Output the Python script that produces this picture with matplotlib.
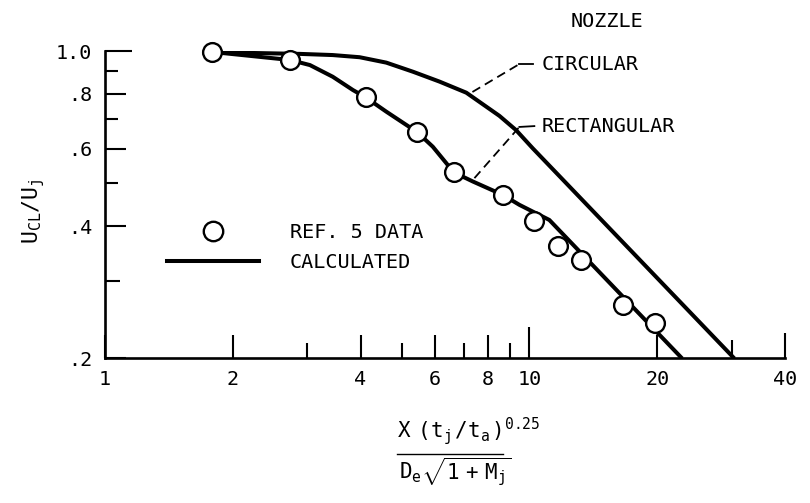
import matplotlib
matplotlib.use("Agg")
import matplotlib.pyplot as plt
from matplotlib.lines import Line2D
from matplotlib.ticker import FixedLocator, FixedFormatter, NullFormatter

plt.rcParams["font.family"] = ["DejaVu Sans Mono", "DejaVu Sans"]
plt.rcParams["mathtext.fontset"] = "custom"
plt.rcParams["mathtext.rm"] = "DejaVu Sans Mono"
plt.rcParams["mathtext.it"] = "DejaVu Sans Mono"
plt.rcParams["mathtext.bf"] = "DejaVu Sans Mono:bold"

# REF. 5 measured centreline velocity (rectangular nozzle)
data_x = [1.79, 2.73, 4.11, 5.43, 6.63, 8.65, 10.27, 11.66, 13.23, 16.64, 19.71]
data_y = [0.995, 0.953, 0.785, 0.654, 0.530, 0.470, 0.411, 0.360, 0.335, 0.265, 0.2405]

# Calculated decay, circular nozzle
circ_x = [1.79, 2.19, 2.88, 3.44, 3.98, 4.60, 5.32, 6.14, 7.10, 8.50, 9.30,
          10.18, 30.4]
circ_y = [0.995, 0.990, 0.985, 0.979, 0.968, 0.941, 0.897, 0.852, 0.804, 0.712, 0.661,
          0.601, 0.20]

# Calculated decay, rectangular nozzle
rect_x = [1.79, 2.73, 3.04, 3.44, 3.84, 4.11, 4.60, 5.13, 5.44, 5.92, 6.37, 6.63,
          7.36, 8.65, 9.47, 11.14, 22.9]
rect_y = [0.995, 0.954, 0.929, 0.874, 0.815, 0.785, 0.728, 0.679, 0.654, 0.606, 0.556,
          0.530, 0.505, 0.471, 0.447, 0.413, 0.20]

x_major = [1, 2, 4, 6, 8, 10, 20, 40]
x_major_labels = ["1", "2", "4", "6", "8", "10", "20", "40"]
x_minor = [3, 5, 7, 9, 30]
y_major = [0.2, 0.4, 0.6, 0.8, 1.0]
y_major_labels = [".2", ".4", ".6", ".8", "1.0"]
y_minor = [0.3, 0.5, 0.7, 0.9]

FS = 14.5
LW = 2.9

fig = plt.figure(figsize=(8.10, 5.03), dpi=100)
ax = fig.add_axes([0.1296, 0.2873, 0.8395, 0.6113])
ax.set_xscale("log")
ax.set_yscale("log")
ax.set_xlim(1, 40)
ax.set_ylim(0.2, 1.0)

for cx, cy in ((circ_x, circ_y), (rect_x, rect_y)):
    ax.plot(cx, cy, color="black", lw=LW, solid_capstyle="butt",
            solid_joinstyle="round", zorder=2)
ax.plot(data_x, data_y, linestyle="none", marker="o", ms=13.5, mfc="white",
        mec="black", mew=1.7, zorder=3, clip_on=False)

for s in ("top", "right"):
    ax.spines[s].set_visible(False)
for s in ("left", "bottom"):
    ax.spines[s].set_linewidth(1.9)

ax.xaxis.set_major_locator(FixedLocator(x_major))
ax.xaxis.set_major_formatter(FixedFormatter(x_major_labels))
ax.xaxis.set_minor_locator(FixedLocator(x_minor))
ax.xaxis.set_minor_formatter(NullFormatter())
ax.yaxis.set_major_locator(FixedLocator(y_major))
ax.yaxis.set_major_formatter(FixedFormatter(y_major_labels))
ax.yaxis.set_minor_locator(FixedLocator(y_minor))
ax.yaxis.set_minor_formatter(NullFormatter())

ax.tick_params(which="both", direction="in", width=1.5, labelsize=FS, color="black")
ax.tick_params(axis="x", which="major", length=16.5, pad=8)
ax.tick_params(axis="x", which="minor", length=11)
ax.tick_params(axis="y", which="major", length=15, pad=9)
ax.tick_params(axis="y", which="minor", length=9.5)

# individual tick lengths
for val, tk in zip(x_major, ax.xaxis.get_major_ticks()):
    if val == 10:
        tk.tick1line.set_markersize(22)
    elif val == 40:
        tk.tick1line.set_markersize(18)
for val, tk in zip(x_minor, ax.xaxis.get_minor_ticks()):
    if val == 30:
        tk.tick1line.set_markersize(13)
for val, tk in zip(y_major, ax.yaxis.get_major_ticks()):
    if val == 1.0:
        tk.tick1line.set_markersize(19.5)
for val, tk in zip(y_minor, ax.yaxis.get_minor_ticks()):
    if val == 0.3:
        tk.tick1line.set_markersize(11)

# nozzle labels with leader lines
ax.text(15.26, 1.164, "NOZZLE", fontsize=FS, ha="center", va="center", clip_on=False)
ax.plot([7.34, 9.47], [0.807, 0.934], color="black", lw=1.3, ls=(0, (5, 3)), clip_on=False)
ax.plot([9.47, 10.22], [0.934, 0.934], color="black", lw=1.3, clip_on=False)
ax.text(10.67, 0.934, "CIRCULAR", fontsize=FS, ha="left", va="center")
ax.plot([7.42, 9.47], [0.514, 0.672], color="black", lw=1.3, ls=(0, (5, 3)))
ax.plot([9.47, 10.27], [0.672, 0.675], color="black", lw=1.3)
ax.text(10.67, 0.675, "RECTANGULAR", fontsize=FS, ha="left", va="center")

handles = [
    Line2D([], [], linestyle="none", marker="o", ms=14, mfc="white", mec="black", mew=1.7),
    Line2D([], [], color="black", lw=LW),
]
ax.legend(handles, ["REF. 5 DATA", "CALCULATED"], loc="center left",
          bbox_to_anchor=(0.091, 0.361), frameon=False, fontsize=FS,
          handlelength=4.6, handletextpad=1.5, borderpad=0, borderaxespad=0,
          labelspacing=0.55)

ax.set_ylabel(r"$\mathrm{U_{CL}/U_j}$", fontsize=15.5)
ax.yaxis.set_label_coords(-0.085, 0.48)

# x-axis quantity written as a fraction
fig.text(0.490, 0.1292, r"$\mathrm{X\ \ (t_j\,/t_a\,)^{0.25}}$", fontsize=15,
         ha="left", va="baseline")
fig.add_artist(Line2D([0.490, 0.621], [0.0974, 0.0974], color="black", lw=1.0,
                      transform=fig.transFigure))
fig.text(0.4925, 0.0457, r"$\mathrm{D_e\sqrt{1\ +\ M_j}}$", fontsize=15,
         ha="left", va="baseline")

fig.savefig("out.png", dpi=100)
